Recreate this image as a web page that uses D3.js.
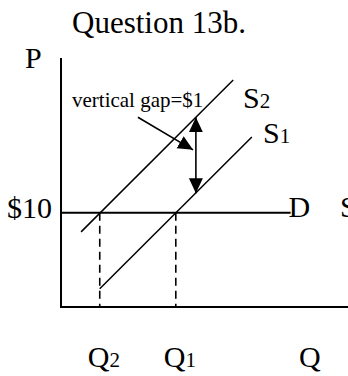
<!DOCTYPE html>
<html>
<head>
<meta charset="utf-8">
<script src="https://cdn.jsdelivr.net/npm/d3@7"></script>
<style>
  body { margin: 0; background: #fff; }
  svg { display: block; }
  text { font-family: "Liberation Serif", "Times New Roman", serif; fill: #000; }
</style>
</head>
<body>
<svg width="348" height="376"></svg>
<script>
// axis extents (quantity units, dollars)
const qRange = [0, 10];
const pRange = [8.76, 12.04];

// market price and the two quantities
const priceD = 10;
const demandEnd = 8; // D drawn out to this quantity
const qLabels = [{name: "Q", sub: "2", q: 1.35}, {name: "Q", sub: "1", q: 4.0}];

// supply curves (two end points each)
const supply1 = [{q: 1.35, p: 9.0}, {q: 6.65, p: 11.0}];
const supply2 = [{q: 0.70, p: 9.75}, {q: 6.0, p: 11.75}];

// vertical gap between S1 and S2
const gap = {q: 4.7, from: 11.26, to: 10.26};
// leader arrow from the note to the gap
const leader = [{q: 2.68, p: 11.26}, {q: 4.6, p: 10.83}];

const svg = d3.select("svg");

const x = d3.scaleLinear().domain(qRange).range([61, 348]); // quantity
const y = d3.scaleLinear().domain(pRange).range([307, 58]);  // price

// arrowhead marker
svg.append("defs").append("marker")
   .attr("id", "head")
   .attr("markerUnits", "userSpaceOnUse")
   .attr("markerWidth", 16).attr("markerHeight", 15)
   .attr("refX", 15).attr("refY", 7)
   .attr("orient", "auto-start-reverse")
   .append("path")
   .attr("d", "M0,0 L15,7 L0,14 Z")
   .attr("fill", "#000");

// title
svg.append("text").attr("x", 72).attr("y", 33)
   .style("font-size", "31px").text("Question 13b.");

// axes
svg.append("line")
   .attr("x1", x(qRange[0])).attr("x2", x(qRange[0]))
   .attr("y1", y(pRange[1])).attr("y2", y(pRange[0]))
   .attr("stroke", "#000").attr("stroke-width", 2);
svg.append("line")
   .attr("x1", x(qRange[0]) - 1).attr("x2", x(qRange[1]))
   .attr("y1", y(pRange[0])).attr("y2", y(pRange[0]))
   .attr("stroke", "#000").attr("stroke-width", 2);

// demand (horizontal at $10)
svg.append("line")
   .attr("x1", x(qRange[0])).attr("x2", x(demandEnd))
   .attr("y1", y(priceD)).attr("y2", y(priceD))
   .attr("stroke", "#000").attr("stroke-width", 2);

// dashed drops to the Q axis
svg.selectAll(".drop")
   .data(qLabels)
   .enter().append("line")
   .attr("class", "drop")
   .attr("x1", d => x(d.q)).attr("x2", d => x(d.q))
   .attr("y1", y(priceD)).attr("y2", y(pRange[0]))
   .attr("stroke", "#000").attr("stroke-width", 1.6)
   .attr("stroke-dasharray", "8,5");

// supply lines
const line = d3.line().x(d => x(d.q)).y(d => y(d.p));
[supply1, supply2].forEach(s => {
  svg.append("path")
     .datum(s)
     .attr("d", line)
     .attr("fill", "none")
     .attr("stroke", "#000")
     .attr("stroke-width", 1.5);
});

// double arrow showing the gap
svg.append("line")
   .attr("x1", x(gap.q)).attr("x2", x(gap.q))
   .attr("y1", y(gap.from)).attr("y2", y(gap.to))
   .attr("stroke", "#000").attr("stroke-width", 1.6)
   .attr("marker-start", "url(#head)")
   .attr("marker-end", "url(#head)");

// leader arrow
svg.append("path")
   .datum(leader)
   .attr("d", line)
   .attr("fill", "none")
   .attr("stroke", "#000").attr("stroke-width", 1.6)
   .attr("marker-end", "url(#head)");

svg.append("text").attr("x", 72).attr("y", 107)
   .style("font-size", "21px").text("vertical gap=$1");

// axis + curve labels
svg.append("text").attr("x", 25).attr("y", 68).style("font-size", "30px").text("P");
svg.append("text").attr("x", 7).attr("y", y(priceD) + 5).style("font-size", "30px").text("$10");
svg.append("text").attr("x", x(demandEnd) - 2).attr("y", y(priceD) + 4).style("font-size", "30px").text("D");
svg.append("text").attr("x", 340).attr("y", y(priceD) + 4).style("font-size", "30px").text("S");

const sub = (tx, ty, main, s) => {
  const t = svg.append("text").attr("x", tx).attr("y", ty).style("font-size", "30px");
  t.append("tspan").text(main);
  t.append("tspan").style("font-size", "21px").text(s);
};
sub(243, 108, "S", "2");
sub(263, 143, "S", "1");

qLabels.forEach(d => sub(x(d.q) - 12, 367, d.name, d.sub));
svg.append("text").attr("x", 299).attr("y", 367).style("font-size", "30px").text("Q");
</script>
</body>
</html>
